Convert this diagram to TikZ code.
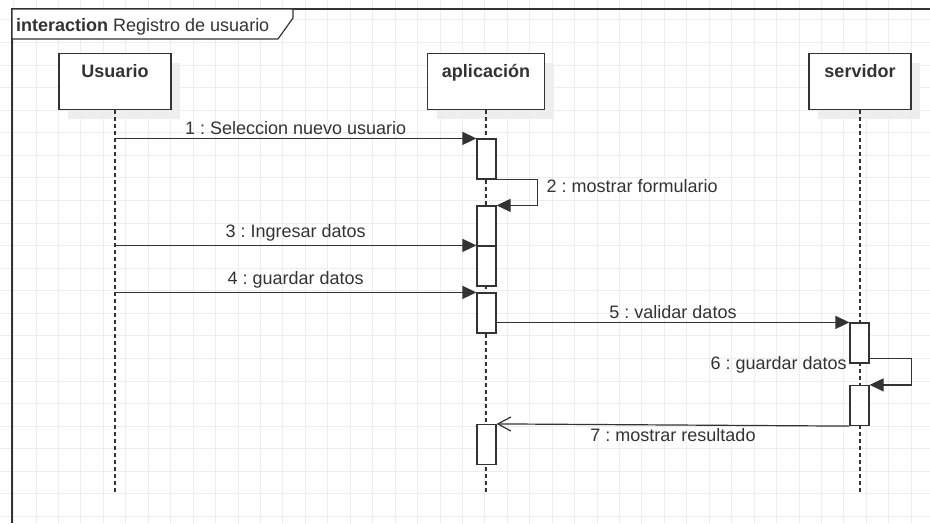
\documentclass[tikz,border=0pt]{standalone}
\usepackage{fontspec}
\setmainfont{Liberation Sans}
\usepackage{tikz}
\usetikzlibrary{shapes,arrows.meta,shadows}
\frenchspacing
\definecolor{linec}{HTML}{333333}
\definecolor{gridc}{HTML}{EDEDED}
\definecolor{shadowc}{HTML}{EEEEEE}
\tikzstyle{line} = [draw=linec, line width=1.2pt, -{Triangle[length=14pt,width=13pt]}]
\tikzstyle{reply} = [draw=linec, line width=1.2pt, -{Straight Barb[length=13pt,width=14pt]}]
\tikzstyle{head} = [draw=linec, fill=white, line width=1.2pt, minimum height=56pt, inner sep=0pt, text height=13pt, text depth=21pt, font=\fontsize{18}{21}\selectfont\bfseries, drop shadow={shadow xshift=9pt, shadow yshift=-9pt, fill=shadowc, opacity=1}]
\tikzstyle{act} = [draw=linec, fill=white, line width=1.2pt, minimum width=19pt, minimum height=40pt, inner sep=0pt]
\tikzstyle{lifeline} = [draw=linec, line width=1.3pt, dash pattern=on 4pt off 3pt]
\tikzstyle{frame} = [draw=linec, line width=1.2pt]
\tikzstyle{gridline} = [draw=gridc, line width=0.8pt]

\begin{document}
\begin{tikzpicture}[x=1pt, y=-1pt, font=\fontsize{18}{21}\selectfont, text=linec]
        \useasboundingbox (0,0) rectangle (930,523);
        % grid
        \foreach \i in {0,...,41} \draw[gridline] ({13.56+22.44*\i},0) -- ++(0,523);
        \foreach \j in {0,...,22} \draw[gridline] (0,{19.86+22.57*\j}) -- ++(930,0);
        % frame
        \draw[frame] (930,9) -- (12,9) -- (12,523);
        \filldraw[frame, fill=white] (12,9) -- (293,9) -- (293,18) -- (278,39) -- (12,39) -- cycle;
        \node[anchor=base west, inner sep=0pt] (title) at (16,31) {\textbf{interaction} Registro de usuario};
        % lifelines
        \node[head, minimum width=112pt] (usr) at (115,81.5) {Usuario};
        \node[head, minimum width=117pt] (app) at (486,81.5) {aplicación};
        \node[head, minimum width=102pt] (srv) at (860,81.5) {servidor};
        \coordinate (bottom) at (0,492);
        \path[lifeline] (usr.south) -- (usr.south |- bottom);
        \path[lifeline] (app.south) -- (app.south |- bottom);
        \path[lifeline] (srv.south) -- (srv.south |- bottom);
        % activations
        \node[act] (a1) at (486.5,159) {};
        \node[act] (a2) at (486.5,226) {};
        \node[act] (a3) at (486.5,266) {};
        \node[act] (a4) at (486.5,313) {};
        \node[act] (a5) at (486.5,444.5) {};
        \node[act] (s1) at (859.5,343) {};
        \node[act] (s2) at (859.5,405.5) {};
        % messages
        \path[line] (a1.north west -| usr.south) -- node[above] {1 : Seleccion nuevo usuario} (a1.north west);
        \path[line] (a1.south east) -- ++(41,0) node[right=5pt, yshift=-6.5pt] {2 : mostrar formulario} |- (a2.north east);
        \path[line] (a3.north west -| usr.south) -- node[above] {3 : Ingresar datos} (a3.north west);
        \path[line] (a4.north west -| usr.south) -- node[above] {4 : guardar datos} (a4.north west);
        \path[line] (s1.north west -| a4.east) -- node[above] {5 : validar datos} (s1.north west);
        \path[line] ([yshift=5pt]s1.south east) node[left=19pt, yshift=-6.4pt] {6 : guardar datos} -- ++(42,0) |- (s2.north east);
        \path[reply] (s2.south west) -- node[below] {7 : mostrar resultado} (a5.north east);
    \end{tikzpicture}
\end{document}
